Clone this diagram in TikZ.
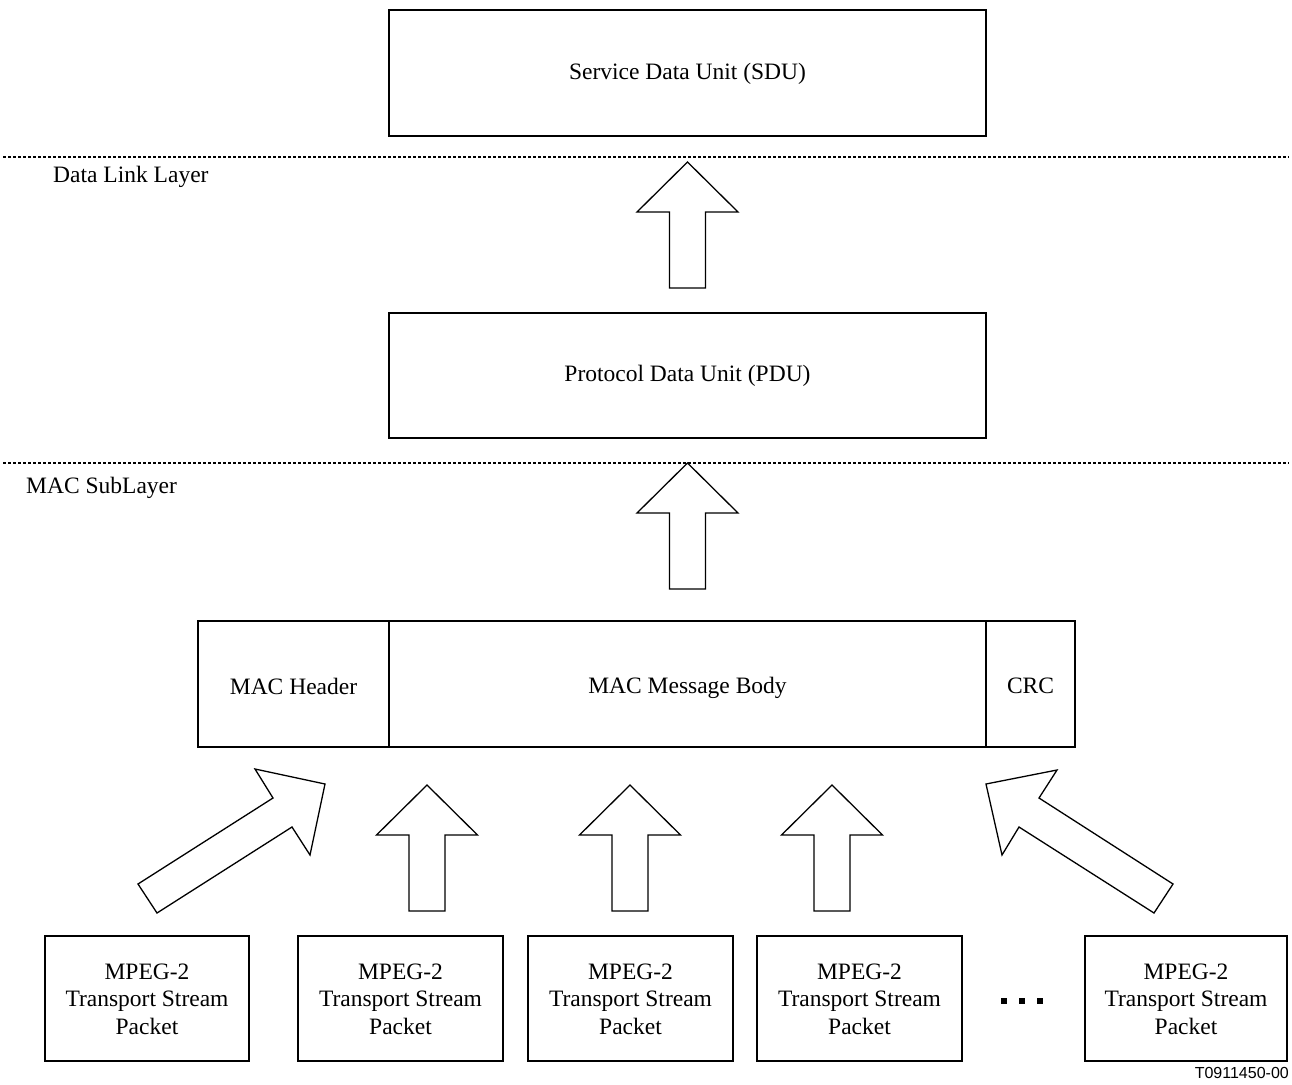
\documentclass[tikz,border=0pt]{standalone}
\usepackage{fontspec}
\setmainfont{Liberation Serif}
\newfontfamily\labsans{Liberation Sans}
\begin{document}
\begin{tikzpicture}[x=1pt,y=-1pt,
  box/.style={draw,line width=1.3pt,fill=white},
  txt/.style={font=\fontsize{23.5}{27.5}\selectfont,align=center,inner sep=0pt},
  layerline/.style={line width=1.1pt,dash pattern=on 3pt off 2pt},
  blockarrow/.style={draw,line width=1.3pt,line join=miter,fill=white},
  dotsq/.style={fill=black}]
\useasboundingbox (0,0) rectangle (1292,1084);
% layer lines
\coordinate (L1a) at (3,157); \coordinate (L1b) at (1289,157);
\coordinate (L2a) at (3,463); \coordinate (L2b) at (1289,463);
\draw[layerline] (L1a) -- (L1b);
\draw[layerline] (L2a) -- (L2b);
\node[txt,anchor=west] (dll) at (53,177) {Data Link Layer};
\node[txt,anchor=west] (macsl) at (26,488) {MAC SubLayer};
% top boxes
\draw[box] (389,10) rectangle (986,136);
\node[txt] (sdu) at (687.5,74) {Service Data Unit (SDU)};
\draw[box] (389,313) rectangle (986,438);
\node[txt] (pdu) at (687.5,376) {Protocol Data Unit (PDU)};
% MAC frame
\draw[box] (198,621) rectangle (1075,747);
\draw[line width=1.3pt] (389,621) -- (389,747);
\draw[line width=1.3pt] (986,621) -- (986,747);
\node[txt] (mach) at (293.5,686) {MAC Header};
\node[txt] (macb) at (687.5,688) {MAC Message Body};
\node[txt] (crc) at (1030.5,686) {CRC};
% vertical block arrows
\foreach \cx/\t in {687.5/162, 687.5/463, 427/785, 630/785, 832/785}{
  \draw[blockarrow] (\cx,\t) -- (\cx+50.5,\t+50) -- (\cx+18,\t+50) -- (\cx+18,\t+126)
    -- (\cx-18,\t+126) -- (\cx-18,\t+50) -- (\cx-50.5,\t+50) -- cycle;
}
% diagonal block arrows
\draw[blockarrow] (325,784) -- (310,855) -- (292,827) -- (157,913) -- (138,884)
  -- (273,798) -- (255,769) -- cycle;
\draw[blockarrow] (986,784) -- (1057,770) -- (1039,798) -- (1173,884) -- (1154,913)
  -- (1019,827) -- (1002,855) -- cycle;
% MPEG boxes
\foreach \n/\xa/\xb in {1/45/249, 2/298/503, 3/528/733, 4/757/962, 5/1085/1287}{
  \draw[box] (\xa,936) rectangle (\xb,1061);
  \node[txt] (ts\n) at ({(\xa+\xb)/2},999) {MPEG-2\\Transport Stream\\Packet};
}
% ellipsis
\foreach \dx in {1003.5,1021.5,1039.5}{
  \fill[dotsq] (\dx-3,998) rectangle (\dx+3,1004);
}
\node[font=\labsans\fontsize{16}{18}\selectfont,anchor=east,inner sep=0pt] (fig) at (1289,1073) {T0911450-00};
\end{tikzpicture}
\end{document}
